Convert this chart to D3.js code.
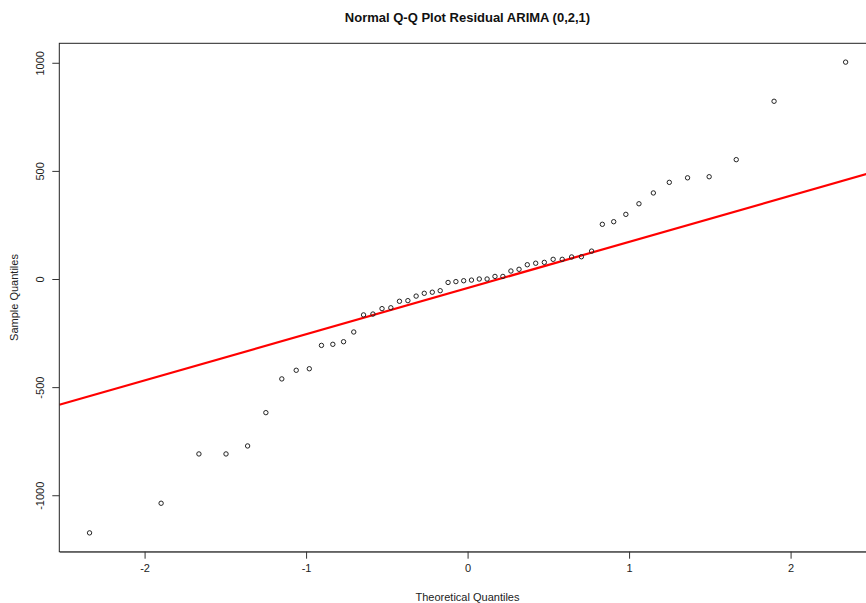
<!DOCTYPE html>
<html>
<head>
<meta charset="utf-8">
<script src="https://cdn.jsdelivr.net/npm/d3@7"></script>
<style>
  html, body { margin: 0; padding: 0; background: #fff; }
  svg { display: block; }
  text { font-family: "Liberation Sans", Arial, sans-serif; }
</style>
</head>
<body>
<svg id="chart" width="866" height="603"></svg>
<script>
// Theoretical normal quantiles (n = 52)
const theoretical = [
  -2.3408, -1.8977, -1.6635, -1.4958, -1.3621, -1.2490, -1.1503, -1.0611, -0.9800, -0.9048,
  -0.8344, -0.7679, -0.7048, -0.6442, -0.5860, -0.5298, -0.4752, -0.4218, -0.3697, -0.3186,
  -0.2683, -0.2186, -0.1696, -0.1208, -0.0724, -0.0241,
   0.0241,  0.0724,  0.1208,  0.1696,  0.2186,  0.2683,  0.3186,  0.3697,  0.4218,  0.4752,
   0.5298,  0.5860,  0.6442,  0.7048,  0.7679,  0.8344,  0.9048,  0.9800,  1.0611,  1.1503,
   1.2490,  1.3621,  1.4958,  1.6635,  1.8977,  2.3408
];
// Sorted sample residuals
const sample = [
  -1174, -1037, -809, -809, -772, -618, -462, -422, -415, -307,
   -302,  -290, -245, -166, -162, -137, -133, -103, -100,  -79,
    -66,   -61,  -54,  -16,  -12,   -8,   -5,    0,    0,   12,
     12,    37,   45,   66,   73,   77,   91,   91,  102,  103,
    129,   253,  265,  299,  348,  398,  447,  468,  473,  552,
    822,  1003
];
const xTicks = [-2, -1, 0, 1, 2];
const yTicks = [-1000, -500, 0, 500, 1000];
const titleText = "Normal Q-Q Plot Residual ARIMA (0,2,1)";
const xLabel = "Theoretical Quantiles";
const yLabel = "Sample Quantiles";

(function () {
const svg = d3.select("#chart");
const pLeft = 59.3, pTop = 43.3, pBottom = 551.7, xUnit = 161.5;

function extend(ext) {
  const r = ext[1] - ext[0];
  return [ext[0] - 0.04 * r, ext[1] + 0.04 * r];
}
const xDom = extend(d3.extent(theoretical));
const yDom = extend(d3.extent(sample));
const pRight = pLeft + (xDom[1] - xDom[0]) * xUnit;

const x = d3.scaleLinear().domain(xDom).range([pLeft, pRight]);
const y = d3.scaleLinear().domain(yDom).range([pBottom, pTop]);

// qqline through quartiles (R type 7)
const q1 = d3.quantile(sample, 0.25), q3 = d3.quantile(sample, 0.75);
const t1 = -0.6744898, t3 = 0.6744898;
const slope = (q3 - q1) / (t3 - t1);
const intercept = q1 - slope * t1;

const defs = svg.append("defs");
defs.append("clipPath").attr("id", "clip")
  .append("rect").attr("x", pLeft).attr("y", pTop)
  .attr("width", pRight - pLeft).attr("height", pBottom - pTop);

// line
svg.append("line")
  .attr("clip-path", "url(#clip)")
  .attr("x1", x(xDom[0])).attr("y1", y(intercept + slope * xDom[0]))
  .attr("x2", x(xDom[1])).attr("y2", y(intercept + slope * xDom[1]))
  .attr("stroke", "#ff0000").attr("stroke-width", 2.2);

// points
svg.append("g").selectAll("circle")
  .data(d3.zip(theoretical, sample))
  .join("circle")
  .attr("cx", d => x(d[0]))
  .attr("cy", d => y(d[1]))
  .attr("r", 2.2)
  .attr("fill", "none")
  .attr("stroke", "#222")
  .attr("stroke-width", 1);

// box
svg.append("rect")
  .attr("x", pLeft).attr("y", pTop)
  .attr("width", pRight - pLeft).attr("height", pBottom - pTop)
  .attr("fill", "none").attr("stroke", "#222").attr("stroke-width", 1);

// x axis
const xAxis = d3.axisBottom(x).tickValues(xTicks).tickSize(7).tickSizeOuter(0).tickPadding(6)
  .tickFormat(d => String(d));
const gx = svg.append("g").attr("transform", `translate(0,${pBottom})`).call(xAxis);
gx.select(".domain").attr("stroke", "#777").attr("stroke-width", 1.5);
gx.selectAll(".tick line").attr("stroke", "#333");
gx.selectAll(".tick text").attr("font-size", 11).attr("fill", "#222")
  .attr("font-family", "Liberation Sans, Arial, sans-serif");

// y axis
const yAxis = d3.axisLeft(y).tickValues(yTicks).tickSize(7).tickSizeOuter(0)
  .tickFormat(d => String(d));
const gy = svg.append("g").attr("transform", `translate(${pLeft},0)`).call(yAxis);
gy.select(".domain").remove();
gy.selectAll(".tick line").attr("stroke", "#333");
gy.selectAll(".tick text")
  .attr("x", null).attr("dy", null)
  .attr("text-anchor", "middle")
  .attr("transform", "translate(-15,0) rotate(-90)")
  .attr("font-size", 11).attr("fill", "#222")
  .attr("font-family", "Liberation Sans, Arial, sans-serif");

// title
svg.append("text")
  .attr("x", 467.5).attr("y", 21.5)
  .attr("text-anchor", "middle")
  .attr("font-size", 13).attr("font-weight", "bold").attr("fill", "#111")
  .text(titleText);

// x label
svg.append("text")
  .attr("x", 467.5).attr("y", 601)
  .attr("text-anchor", "middle")
  .attr("font-size", 11).attr("fill", "#222")
  .text(xLabel);

// y label
svg.append("text")
  .attr("transform", `translate(18,${(pTop + pBottom) / 2}) rotate(-90)`)
  .attr("text-anchor", "middle")
  .attr("font-size", 11).attr("fill", "#222")
  .text(yLabel);
})();
</script>
</body>
</html>
